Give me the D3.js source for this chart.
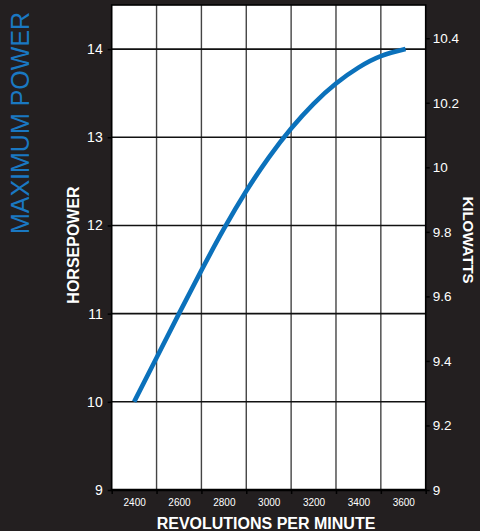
<!DOCTYPE html>
<html><head><meta charset="utf-8">
<script src="https://cdn.jsdelivr.net/npm/d3@7"></script>
<style>
html,body{margin:0;padding:0;background:#231f20;}
svg{display:block;}
text{font-family:"Liberation Sans",Arial,Helvetica,sans-serif;}
</style></head>
<body>
<script>
// Data
const rpm = [2400, 2500, 2600, 2700, 2800, 2900, 3000, 3100, 3200, 3300, 3400, 3500, 3610];
const horsepower = [10.0, 10.50, 11.00, 11.49, 11.96, 12.39, 12.77, 13.10, 13.38, 13.61, 13.79, 13.92, 14.0];
const rpmLabels = [2400, 2600, 2800, 3000, 3200, 3400, 3600];
const rpmGrid = [2500, 2700, 2900, 3100, 3300, 3500];
const hpTicks = [9, 10, 11, 12, 13, 14];
const kwTicks = [9, 9.2, 9.4, 9.6, 9.8, 10, 10.2, 10.4];
const title = "MAXIMUM POWER";
const xTitle = "REVOLUTIONS PER MINUTE";
const yLeftTitle = "HORSEPOWER";
const yRightTitle = "KILOWATTS";

const W = 480, H = 531;
const L = 111.7, R = 425.7, T = 5, B = 490;
const blue = "#0b71bb";

const svg = d3.select("body").append("svg").attr("width", W).attr("height", H);
svg.append("rect").attr("width", W).attr("height", H).attr("fill", "#231f20");

const x = d3.scaleLinear().domain([2300, 3700]).range([L, R]);
const y = d3.scaleLinear().domain([9, 14.5]).range([B, T]);
const yk = d3.scaleLinear().domain([9, 10.503]).range([B, T]);

// plot area
svg.append("rect").attr("x", L).attr("y", T).attr("width", R - L).attr("height", B - T)
  .attr("fill", "#fff");

// vertical grid
svg.append("g").selectAll("line").data(rpmGrid).join("line")
  .attr("x1", d => x(d)).attr("x2", d => x(d)).attr("y1", T).attr("y2", B)
  .attr("stroke", "#444").attr("stroke-width", 1.4);

// horizontal grid
svg.append("g").selectAll("line").data(hpTicks.filter(d => d > 9)).join("line")
  .attr("x1", L).attr("x2", R).attr("y1", d => y(d)).attr("y2", d => y(d))
  .attr("stroke", "#111").attr("stroke-width", 1.6);

// border
svg.append("rect").attr("x", L).attr("y", T).attr("width", R - L).attr("height", B - T)
  .attr("fill", "none").attr("stroke", "#000").attr("stroke-width", 1.6);

// left axis
const gl = svg.append("g").attr("transform", `translate(${L},0)`)
  .call(d3.axisLeft(y).tickValues(hpTicks).tickSize(4).tickPadding(5).tickFormat(d3.format("d")));
gl.select(".domain").remove();
gl.selectAll("line").attr("stroke", "#000").attr("stroke-width", 1.5);
gl.selectAll("text").attr("fill", "#fff").attr("font-size", 14).attr("font-family", "Liberation Sans, Arial, sans-serif");

// right axis
const gr = svg.append("g").attr("transform", `translate(${R},0)`)
  .call(d3.axisRight(yk).tickValues(kwTicks).tickSize(4).tickPadding(3).tickFormat(d => d3.format("")(+d.toFixed(1))));
gr.select(".domain").remove();
gr.selectAll("line").attr("stroke", "#000").attr("stroke-width", 1.5);
gr.selectAll("text").attr("fill", "#fff").attr("font-size", 13.5).attr("font-family", "Liberation Sans, Arial, sans-serif");

// bottom axis line
svg.append("line").attr("x1", L - 1).attr("x2", R + 1).attr("y1", B).attr("y2", B)
  .attr("stroke", "#000").attr("stroke-width", 2.4);
const gbt = svg.append("g").attr("transform", `translate(0,${B})`)
  .call(d3.axisBottom(x).tickValues(rpmGrid.concat([2300, 3700])).tickSize(4).tickFormat(""));
gbt.select(".domain").remove();
gbt.selectAll("line").attr("stroke", "#000").attr("stroke-width", 1.5);
const gb = svg.append("g").attr("transform", `translate(0,${B})`)
  .call(d3.axisBottom(x).tickValues(rpmLabels).tickSize(0).tickPadding(9).tickFormat(d3.format("d")));
gb.select(".domain").remove();
gb.selectAll("text").attr("fill", "#fff").attr("font-size", 10).attr("font-family", "Liberation Sans, Arial, sans-serif");

// curve
const line = d3.line().x((d, i) => x(rpm[i])).y(d => y(d)).curve(d3.curveNatural);
svg.append("path").attr("d", line(horsepower)).attr("fill", "none")
  .attr("stroke", blue).attr("stroke-width", 4.6).attr("stroke-linecap", "butt");

// titles
svg.append("text").attr("transform", `translate(29,123) rotate(-90)`)
  .attr("text-anchor", "middle").attr("fill", "#1a78c2").attr("font-size", 25)
  .text(title);
svg.append("text").attr("transform", `translate(79,245) rotate(-90)`)
  .attr("text-anchor", "middle").attr("fill", "#fff").attr("font-size", 16).attr("font-weight", "bold")
  .text(yLeftTitle);
svg.append("text").attr("transform", `translate(463,240) rotate(90)`)
  .attr("text-anchor", "middle").attr("fill", "#fff").attr("font-size", 15).attr("font-weight", "bold")
  .text(yRightTitle);
svg.append("text").attr("x", 266).attr("y", 529)
  .attr("text-anchor", "middle").attr("fill", "#fff").attr("font-size", 16).attr("font-weight", "bold")
  .text(xTitle);
</script>
</body></html>
